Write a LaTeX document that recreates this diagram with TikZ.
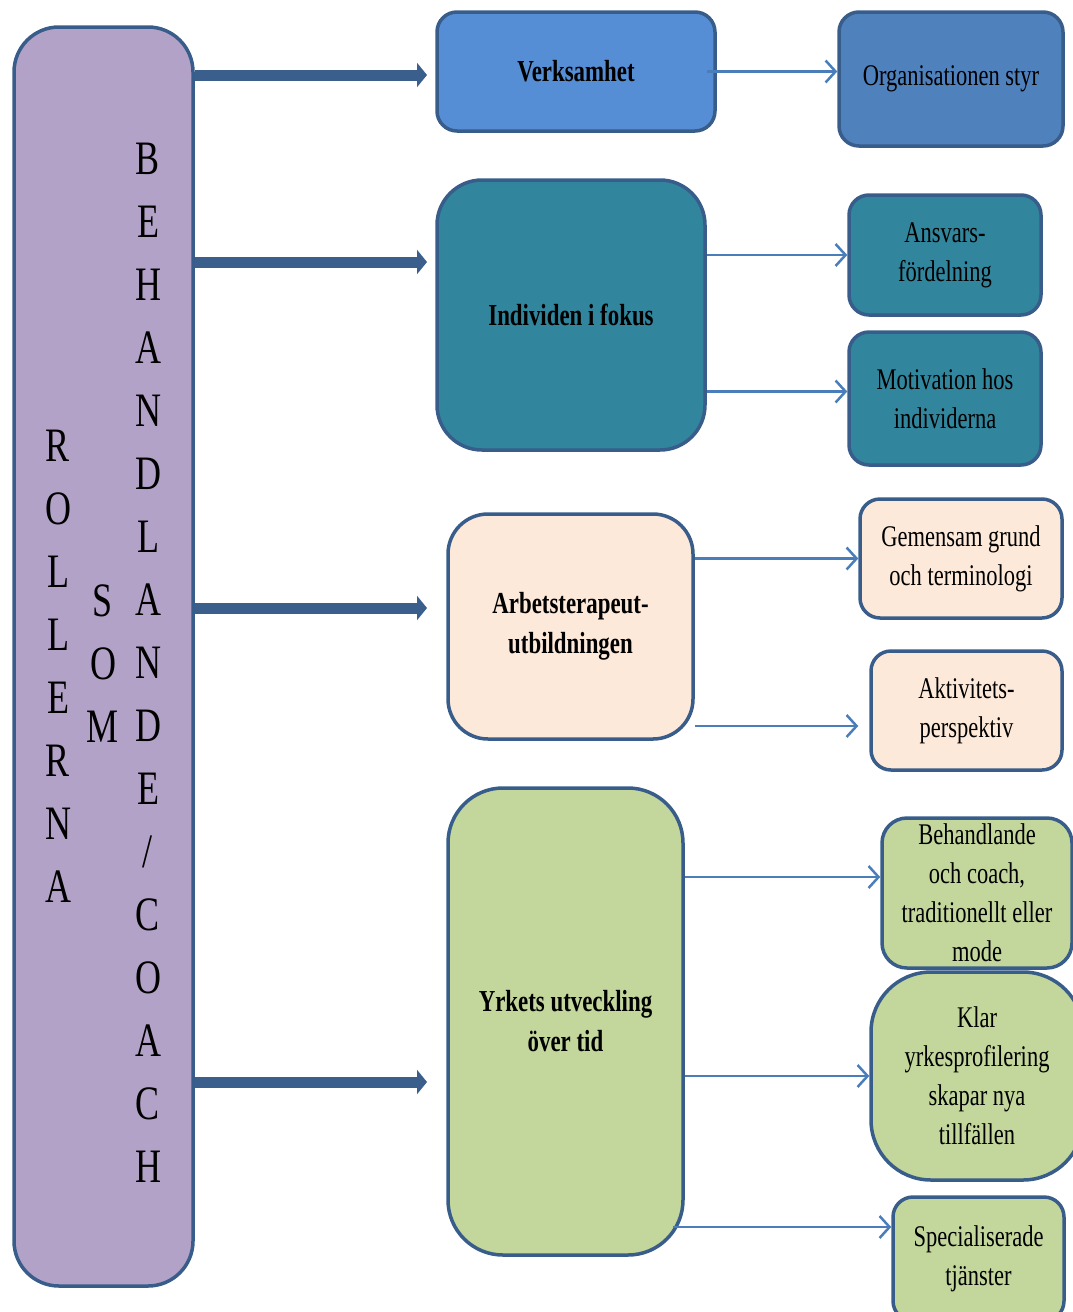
\documentclass[tikz,border=0pt]{standalone}
\usepackage{fontspec}
\setmainfont[FakeStretch=0.75]{Liberation Serif}
\usetikzlibrary{arrows.meta}

\definecolor{rim}{HTML}{385D8A}
\definecolor{fatblue}{HTML}{3A5F8D}
\definecolor{linkblue}{HTML}{4A7EBB}
\definecolor{lilac}{HTML}{B3A2C7}
\definecolor{skyblue}{HTML}{558ED5}
\definecolor{midblue}{HTML}{4F81BD}
\definecolor{teal}{HTML}{31859C}
\definecolor{peach}{HTML}{FDE9D9}
\definecolor{olive}{HTML}{C3D69B}

\begin{document}
\begin{tikzpicture}[x=1pt, y=-1pt,
    box/.style={draw=rim, line width=3.5pt, rounded corners=20pt, align=center,
        inner sep=0pt, font=\fontsize{30}{39}\selectfont},
    head/.style={box, font=\bfseries\fontsize{30.5}{40}\selectfont},
    letters/.style={align=center, inner sep=0pt, font=\fontsize{48}{63}\selectfont},
    fat/.style={draw=fatblue, line width=11pt, -{Triangle[length=10pt, width=24pt]}},
    link/.style={draw=linkblue, line width=2.5pt,
        -{Straight Barb[length=10pt, width=22pt, line width=2.5pt]}}]

    \clip (0,0) rectangle (1073,1312);

    % left column
    \node[box, fill=lilac, rounded corners=45pt, minimum width=179pt, minimum height=1259pt]
        (roller) at (103.5,656.5) {};
    \node[letters] (rollerna) at (58,666) {R\\O\\L\\L\\E\\R\\N\\A};
    \node[letters] (som) at (103,664) {S\\O\\M};
    \node[letters] (behcoach) at (148,662.5) {B\\E\\H\\A\\N\\D\\L\\A\\N\\D\\E\\/\\C\\O\\A\\C\\H};

    % middle column
    \node[head, fill=skyblue, minimum width=278pt, minimum height=119pt]
        (verks) at (576,71.5) {Verksamhet};
    \node[head, fill=teal, rounded corners=45pt, minimum width=268pt, minimum height=270pt]
        (indiv) at (571,315) {Individen i fokus};
    \node[head, fill=peach, rounded corners=40pt, minimum width=245pt, minimum height=225pt]
        (arbets) at (570.5,626.5) {Arbetsterapeut-\\utbildningen};
    \node[head, fill=olive, rounded corners=55pt, minimum width=235pt, minimum height=467pt]
        (yrke) at (565.5,1021.5) {Yrkets utveckling\\över tid};

    % right column
    \node[box, fill=midblue, minimum width=224pt, minimum height=134pt]
        (org) at (951,79) {Organisationen styr};
    \node[box, fill=teal, minimum width=192pt, minimum height=120pt]
        (ansvar) at (945,255) {Ansvars-\\fördelning};
    \node[box, fill=teal, minimum width=192pt, minimum height=133pt]
        (motiv) at (945,398.5) {Motivation hos\\individerna};
    \node[box, fill=peach, minimum width=202pt, minimum height=119pt]
        (gemen) at (961,558.5) {Gemensam grund\\och terminologi};
    \node[box, fill=peach, minimum width=191pt, minimum height=119pt]
        (aktiv) at (966.5,710.5) {Aktivitets-\\perspektiv};
    \node[box, fill=olive, rounded corners=25pt, minimum width=190pt, minimum height=150pt]
        (behand) at (977,893) {Behandlande\\och coach,\\traditionellt eller\\mode};
    \node[box, fill=olive, rounded corners=60pt, minimum width=212pt, minimum height=208pt]
        (klar) at (977,1076) {Klar\\yrkesprofilering\\skapar nya\\tillfällen};
    \node[box, fill=olive, minimum width=171pt, minimum height=124pt]
        (spec) at (978.5,1259) {Specialiserade\\tjänster};

    % thick arrows
    \coordinate (tipA) at (427,75);
    \coordinate (tipB) at (427,262);
    \coordinate (tipC) at (427,608);
    \coordinate (tipD) at (427,1082);
    \draw[fat] (roller.east |- tipA) -- (tipA);
    \draw[fat] (roller.east |- tipB) -- (tipB);
    \draw[fat] (roller.east |- tipC) -- (tipC);
    \draw[fat] (roller.east |- tipD) -- (tipD);

    % thin arrows, free ends off the box centres
    \coordinate (toMotiv) at ([yshift=7pt]motiv.west);
    \coordinate (toAktiv) at ([yshift=-15.5pt]aktiv.west);
    \coordinate (toBehand) at ([yshift=16pt]behand.west);
    \coordinate (toSpec) at ([yshift=32pt]spec.west);
    \coordinate (fromYrke) at ([xshift=-12pt]yrke.east);
    \draw[link] ([xshift=-10pt]verks.east) -- (verks.east -| org.west);
    \draw[link] (indiv.east |- ansvar.west) -- (ansvar.west);
    \draw[link] (indiv.east |- toMotiv) -- (toMotiv);
    \draw[link] (arbets.east |- gemen.west) -- (gemen.west);
    \draw[link, shorten >=11pt] (arbets.east |- toAktiv) -- (toAktiv);
    \draw[link] (yrke.east |- toBehand) -- (toBehand);
    \draw[link] (yrke.east |- klar.west) -- (klar.west);
    \draw[link] (fromYrke |- toSpec) -- (toSpec);

\end{tikzpicture}
\end{document}
